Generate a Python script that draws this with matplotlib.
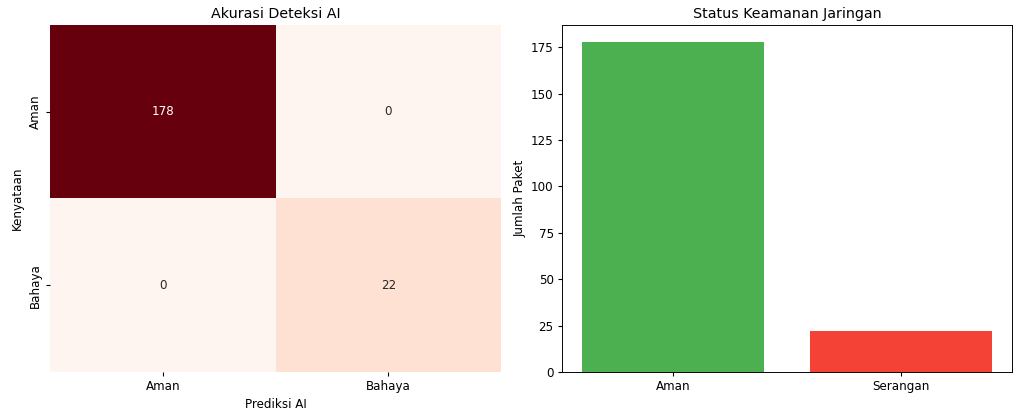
import numpy as np
import matplotlib
matplotlib.use("Agg")
import matplotlib.pyplot as plt
import seaborn as sns

# Data
labels_cm = ["Aman", "Bahaya"]
cm = np.array([[178, 0],
               [0, 22]])
status_labels = ["Aman", "Serangan"]
status_counts = [178, 22]
status_colors = ["#4CAF50", "#F44336"]

# figure looks like a 12x5 plot scaled down to 1024 px
s = 1024 / 1200
plt.rcParams["font.size"] = 10 * s
plt.rcParams["xtick.major.size"] = 3.5 * s
plt.rcParams["ytick.major.size"] = 3.5 * s
plt.rcParams["xtick.major.pad"] = 3.5 * s
plt.rcParams["ytick.major.pad"] = 3.5 * s
plt.rcParams["axes.labelpad"] = 4 * s
plt.rcParams["axes.titlepad"] = 6 * s
plt.rcParams["axes.linewidth"] = 0.8 * s

fig = plt.figure(figsize=(10.24, 4.11), dpi=100)
ax1 = fig.add_axes([50 / 1024, 39 / 411, 451 / 1024, 347 / 411])
ax2 = fig.add_axes([562 / 1024, 39 / 411, 450 / 1024, 347 / 411])

# Confusion matrix
sns.heatmap(cm, annot=True, fmt="d", cmap="Reds", cbar=False,
            xticklabels=labels_cm, yticklabels=labels_cm, ax=ax1,
            annot_kws={"size": 10 * s})
ax1.set_title("Akurasi Deteksi AI", fontsize=12 * s)
ax1.set_xlabel("Prediksi AI")
ax1.set_ylabel("Kenyataan")
plt.setp(ax1.get_yticklabels(), rotation=90, va="center")

# Bar chart
ax2.bar(status_labels, status_counts, color=status_colors)
ax2.set_title("Status Keamanan Jaringan", fontsize=12 * s)
ax2.set_ylabel("Jumlah Paket")

fig.savefig("out.png", dpi=100)
